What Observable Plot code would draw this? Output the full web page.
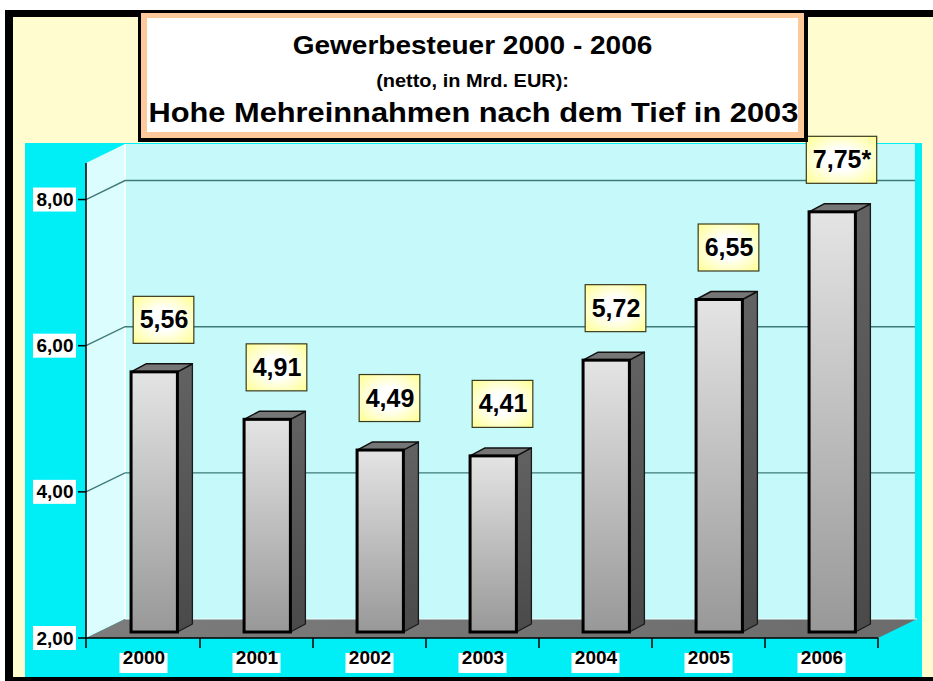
<!DOCTYPE html>
<html>
<head>
<meta charset="utf-8">
<script src="https://cdn.jsdelivr.net/npm/d3@7"></script>
<script src="https://cdn.jsdelivr.net/npm/@observablehq/plot@0.6"></script>
<style>
  html, body { margin: 0; padding: 0; background: #ffffff; overflow: hidden; width: 933px; height: 681px; scrollbar-width: none; }
  ::-webkit-scrollbar { width: 0; height: 0; display: none; }
  #stage { position: relative; width: 933px; height: 681px; overflow: hidden;
           font-family: "Liberation Sans", Arial, Helvetica, sans-serif; }
  #frame { position: absolute; left: 5px; top: 10px; width: 990px; height: 675px;
           border: 8px solid #000; border-top-width: 7px; background: #FFFCD0; box-sizing: border-box; }
  #cyan { position: absolute; left: 25px; top: 143px; width: 897px; height: 534px; background: #00EEF6; }
  #plot { position: absolute; left: 0; top: 0; }
  #titlebox { position: absolute; left: 138px; top: 13px; width: 670px; height: 129px;
              background: #000; padding: 0 4px 4px 3px; box-sizing: border-box; }
  #titlebox .inner { width: 100%; height: 100%; border: 6px solid #FDC89A; border-top-width: 5px;
                     background: #fff; box-sizing: border-box; }
  .tline { position: absolute; left: 138px; width: 670px; text-align: center; font-weight: bold;
           color: #000; white-space: nowrap; }
  .tline span { display: inline-block; transform-origin: center; }
</style>
</head>
<body>
<div id="stage">
  <div id="frame"></div>
  <div id="cyan"></div>
  <div id="plot"></div>
  <div id="titlebox"><div class="inner"></div></div>
  <div class="tline" id="t1" style="top:30px; line-height:30px; font-size:25px;"><span style="transform:scaleX(1.12)"></span></div>
  <div class="tline" id="t2" style="top:69px; line-height:24px; font-size:17.5px;"><span style="transform:scaleX(1.14)"></span></div>
  <div class="tline" id="t3" style="top:96px; line-height:34px; font-size:28px;"><span style="transform:scaleX(1.1)"></span></div>
</div>
<script>
// ---------- data ----------
const titleLines = ["Gewerbesteuer 2000 - 2006", "(netto, in Mrd. EUR):", "Hohe Mehreinnahmen nach dem Tief in 2003"];
const years = ["2000", "2001", "2002", "2003", "2004", "2005", "2006"];
const values = [5.56, 4.91, 4.49, 4.41, 5.72, 6.55, 7.75];
const notes = ["", "", "", "", "", "", "*"];
const yTicks = [2, 4, 6, 8];
const yDomain = [2, 8.5];

document.querySelector("#t1 span").textContent = titleLines[0];
document.querySelector("#t2 span").textContent = titleLines[1];
document.querySelector("#t3 span").textContent = titleLines[2];

const fmt = v => v.toFixed(2).replace(".", ",");
const data = years.map((year, i) => ({year, value: values[i], label: fmt(values[i]) + notes[i]}));

// ---------- styling constants (pixels) ----------
const DX = 39, DY = 19;          // depth of the 3D room
const LIFT = 6;                  // bars stand half-way back in the room
const SDX = 15, SDY = 8;         // depth of each bar
const LBL_DX = 20, LBL_DY = -58; // value label offset
const FONT = "'Liberation Sans', Arial, Helvetica, sans-serif";

const NS = "http://www.w3.org/2000/svg";
function el(tag, attrs) {
  const e = document.createElementNS(NS, tag);
  for (const k in attrs) e.setAttribute(k, attrs[k]);
  return e;
}
const bwOf = x => (typeof x.bandwidth === "function" ? x.bandwidth() : x.bandwidth);
const canvas = document.createElement("canvas");
const ctx = canvas.getContext("2d");
function textWidth(t, size) { ctx.font = `bold ${size}px ${FONT}`; return ctx.measureText(t).width; }

// room: back wall, left wall, gridlines, floor
function room(index, scales, values, dims) {
  const {x, y} = scales;
  const x0 = dims.marginLeft, x1 = dims.width - dims.marginRight;
  const yb = y(yDomain[0]), yt = y(yDomain[1]);
  const g = el("g", {});
  const defs = el("defs", {});
  defs.innerHTML = `
    <linearGradient id="floorGrad" x1="0" y1="0" x2="1" y2="0">
      <stop offset="0" stop-color="#7c7c7c"/><stop offset="1" stop-color="#6c6c6c"/>
    </linearGradient>`;
  g.append(defs);
  g.append(el("rect", {x: x0 + DX, y: yt - DY, width: x1 - x0 - 2, height: yb - yt, fill: "#C6FAFA"}));
  g.append(el("polygon", {points: `${x0},${yt} ${x0 + DX},${yt - DY} ${x0 + DX},${yb - DY} ${x0},${yb}`, fill: "#DCFDFD"}));
  g.append(el("line", {x1: x0 + DX, x2: x0 + DX, y1: yt - DY, y2: yb - DY, stroke: "#ffffff", "stroke-width": 1.5}));
  for (const t of yTicks.slice(1)) {
    const yy = y(t);
    g.append(el("polyline", {points: `${x0},${yy} ${x0 + DX},${yy - DY} ${x1 + DX - 2},${yy - DY}`,
      fill: "none", stroke: "#3E7A7A", "stroke-width": 1.4}));
  }
  g.append(el("polygon", {points: `${x0},${yb} ${x1},${yb} ${x1 + DX},${yb - DY} ${x0 + DX},${yb - DY}`, fill: "url(#floorGrad)"}));
  g.append(el("line", {x1: x0 + DX, x2: x1 + DX, y1: yb - DY, y2: yb - DY, stroke: "#e8ffff", "stroke-width": 1}));
  return g;
}

// 3D bars
function bars(index, scales, values, dims) {
  const {x, y} = scales;
  const bw = bwOf(x);
  const g = el("g", {});
  const defs = el("defs", {});
  defs.innerHTML = `
    <linearGradient id="frontGrad" x1="0" y1="0" x2="0" y2="1">
      <stop offset="0" stop-color="#E4E4E4"/><stop offset="1" stop-color="#989898"/>
    </linearGradient>
    <linearGradient id="sideGrad" x1="0" y1="0" x2="0" y2="1">
      <stop offset="0" stop-color="#626262"/><stop offset="1" stop-color="#4A4A4A"/>
    </linearGradient>`;
  g.append(defs);
  const B = y(yDomain[0]) - LIFT;
  for (const d of data) {
    const L = x(d.year) + bw * 0.39, W = bw * 0.41;
    const T = y(d.value) - LIFT;
    g.append(el("polygon", {points: `${L + W},${T} ${L + W + SDX},${T - SDY} ${L + W + SDX},${B - SDY} ${L + W},${B}`,
      fill: "url(#sideGrad)", stroke: "#1a1a1a", "stroke-width": 1.3, "stroke-linejoin": "round"}));
    g.append(el("polygon", {points: `${L},${T} ${L + SDX},${T - SDY} ${L + W + SDX},${T - SDY} ${L + W},${T}`,
      fill: "#767676", stroke: "#111", "stroke-width": 1.5, "stroke-linejoin": "round"}));
    g.append(el("rect", {x: L, y: T, width: W, height: B - T, fill: "url(#frontGrad)", stroke: "#000", "stroke-width": 3}));
  }
  return g;
}

// axis lines & ticks on the front plane
function axes(index, scales, values, dims) {
  const {x, y} = scales;
  const bw = bwOf(x);
  const x0 = dims.marginLeft, x1 = dims.width - dims.marginRight;
  const yb = y(yDomain[0]), yt = y(yDomain[1]);
  const g = el("g", {stroke: "#000", "stroke-width": 1.5});
  g.append(el("line", {x1: x0, x2: x0, y1: yt, y2: yb + 10}));
  g.append(el("line", {x1: x0, x2: x1, y1: yb, y2: yb}));
  for (const yr of years) {
    const xe = x(yr) + bw;
    g.append(el("line", {x1: xe, x2: xe, y1: yb, y2: yb + 10}));
  }
  for (const t of yTicks) g.append(el("line", {x1: x0 - 8, x2: x0, y1: y(t), y2: y(t)}));
  return g;
}

// boxes behind value labels
function labelBoxes(index, scales, values, dims) {
  const {x, y} = scales;
  const bw = bwOf(x);
  const g = el("g", {});
  const defs = el("defs", {});
  defs.innerHTML = `
    <radialGradient id="lblGrad" cx="50%" cy="50%" r="65%">
      <stop offset="0.35" stop-color="#FFFFFF"/><stop offset="1" stop-color="#FFFF9C"/>
    </radialGradient>`;
  g.append(defs);
  for (const d of data) {
    const cx = x(d.year) + bw / 2 + LBL_DX, cy = y(d.value) + LBL_DY;
    const w = textWidth(d.label, 25) + 12, h = 47;
    g.append(el("rect", {x: cx - w / 2, y: cy - h / 2, width: w, height: h, fill: "url(#lblGrad)", stroke: "#3a3a20", "stroke-width": 1.2}));
  }
  return g;
}

// white boxes behind axis tick labels
function tickBoxes(index, scales, values, dims) {
  const {x, y} = scales;
  const bw = bwOf(x);
  const yb = y(yDomain[0]);
  const g = el("g", {fill: "#ffffff"});
  for (const yr of years) {
    const cx = x(yr) + bw / 2;
    g.append(el("rect", {x: cx - 24, y: yb + 15, width: 48, height: 20}));
  }
  for (const t of yTicks) {
    g.append(el("rect", {x: dims.marginLeft - 53, y: y(t) - 12, width: 43, height: 24}));
  }
  return g;
}

const chart = Plot.plot({
  width: 933,
  height: 681,
  marginLeft: 86,
  marginRight: 55,
  marginTop: 163,
  marginBottom: 43,
  style: {background: "transparent", fontFamily: FONT, overflow: "visible"},
  x: {type: "band", domain: years, padding: 0, axis: null},
  y: {domain: yDomain, axis: null},
  marks: [
    room,
    bars,
    axes,
    labelBoxes,
    Plot.text(data, {x: "year", y: "value", dx: LBL_DX, dy: LBL_DY, text: "label",
      fontSize: 25, fontWeight: "bold", fill: "#000"}),
    tickBoxes,
    Plot.text(yTicks, {y: d => d, frameAnchor: "left", dx: -13, textAnchor: "end", text: d => fmt(d),
      fontSize: 19, fontWeight: "bold", fill: "#000"}),
    Plot.text(years, {x: d => d, frameAnchor: "bottom", dy: 25, text: d => d,
      fontSize: 19, fontWeight: "bold", fill: "#000"})
  ]
});
document.getElementById("plot").append(chart);
</script>
</body>
</html>
